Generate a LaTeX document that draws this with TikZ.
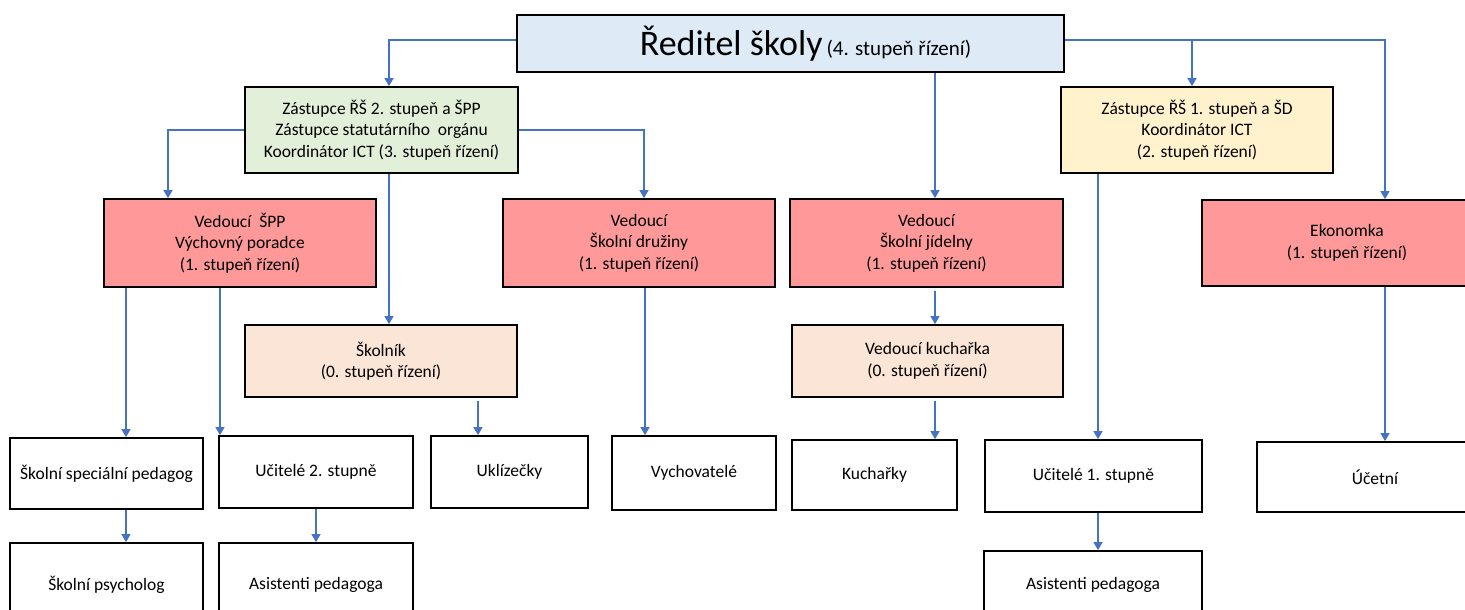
\documentclass[tikz,border=0pt]{standalone}
\usepackage{fontspec}
\setmainfont{Carlito}
\usetikzlibrary{arrows.meta}
\definecolor{linkblue}{HTML}{4472C4}
\definecolor{directorblue}{HTML}{DEEBF7}
\definecolor{deputygreen}{HTML}{E2F0D9}
\definecolor{deputyyellow}{HTML}{FFF2CC}
\definecolor{headred}{HTML}{FF9999}
\definecolor{staffpeach}{HTML}{FBE5D6}
\begin{document}
\begin{tikzpicture}[
    x=1pt, y=-1pt,
    every node/.style={align=center, font=\fontsize{17.5}{21.5}\selectfont},
    box/.style={draw=black, line width=1.8pt, inner sep=0pt},
    director box/.style={box, fill=directorblue},
    deputy2 box/.style={box, fill=deputygreen},
    deputy1 box/.style={box, fill=deputyyellow},
    head box/.style={box, fill=headred},
    staff box/.style={box, fill=staffpeach},
    plain box/.style={box, fill=white},
    link/.style={draw=linkblue, line width=1.3pt, -{Triangle[length=8pt,width=9pt]}},
    ]
\fill[white] (0,0) rectangle (1465,610);
\useasboundingbox (0,0) rectangle (1465,610);
\node[director box, minimum width=547pt, minimum height=57pt] (reditel) at (790.5,43.5) {\hspace*{30pt}{\fontsize{36}{42}\selectfont Ředitel školy} {\fontsize{21}{25}\selectfont (4. stupeň řízení)}};
\node[deputy2 box, minimum width=273pt, minimum height=86pt] (zast2) at (381.5,130) {Zástupce ŘŠ 2. stupeň a ŠPP\\Zástupce statutárního\ \ orgánu\\Koordinátor ICT (3. stupeň řízení)};
\node[deputy1 box, minimum width=272pt, minimum height=86pt] (zast1) at (1197,130) {Zástupce ŘŠ 1. stupeň a ŠD\\Koordinátor ICT\\(2. stupeň řízení)};
\node[head box, minimum width=272pt, minimum height=88pt] (vedspp) at (240,243) {Vedoucí\ \ ŠPP\\Výchovný poradce\\(1. stupeň řízení)};
\node[head box, minimum width=272pt, minimum height=88pt] (druzina) at (639,243) {Vedoucí\\Školní družiny\\(1. stupeň řízení)};
\node[head box, minimum width=273pt, minimum height=88pt] (jidelna) at (926.5,243) {Vedoucí\\Školní jídelny\\(1. stupeň řízení)};
\node[head box, minimum width=290pt, minimum height=86pt] (ekonomka) at (1347,243) {Ekonomka\\(1. stupeň řízení)};
\node[staff box, minimum width=272pt, minimum height=72pt] (skolnik) at (381,361) {Školník\\(0. stupeň řízení)};
\node[staff box, minimum width=271pt, minimum height=72pt] (kucharka) at (927.5,361) {Vedoucí kuchařka\\(0. stupeň řízení)};
\node[plain box, minimum width=193pt, minimum height=71pt] (specped) at (106.5,473.5) {Školní speciální pedagog};
\node[plain box, minimum width=194pt, minimum height=72pt] (ucit2) at (316,472) {Učitelé 2. stupně};
\node[plain box, minimum width=157pt, minimum height=72pt] (uklizecky) at (509.5,472) {Uklízečky};
\node[plain box, minimum width=164pt, minimum height=74pt] (vychovatele) at (694,473) {Vychovatelé};
\node[plain box, minimum width=165pt, minimum height=70pt] (kucharky) at (874.5,475) {Kuchařky};
\node[plain box, minimum width=217pt, minimum height=72pt] (ucit1) at (1093.5,476) {Učitelé 1. stupně};
\node[plain box, minimum width=236pt, minimum height=70pt] (ucetni) at (1375,477) {Účetní};
\node[plain box, minimum width=193pt, minimum height=84pt] (psycholog) at (106.5,585) {Školní psycholog};
\node[plain box, minimum width=194pt, minimum height=84pt] (asist2) at (316,585) {Asistenti pedagoga};
\node[plain box, minimum width=218pt, minimum height=68pt] (asist1) at (1093,585) {Asistenti pedagoga};
\draw[link] ([yshift=3.5pt]reditel.west) -| ([xshift=7.5pt]zast2.north);
\draw[link] ([yshift=3.5pt]reditel.east) -| ([xshift=38pt]ekonomka.north);
\draw[link] ([shift={(-5pt,3.5pt)}]zast1.north |- reditel.east) -- ([xshift=-5pt]zast1.north);
\draw[link] ([xshift=144.5pt]reditel.south) -- ([xshift=8.5pt]jidelna.north);
\draw[link] (zast2.west) -| ([xshift=-72pt]vedspp.north);
\draw[link] (zast2.east) -| ([xshift=5pt]druzina.north);
\draw[link] ([xshift=7.5pt]zast2.south) -- ([xshift=8pt]skolnik.north);
\draw[link] ([xshift=-99pt]zast1.south) -- ([xshift=4.5pt]ucit1.north);
\draw[link] ([xshift=-114pt]vedspp.south) -- ([xshift=19.5pt]specped.north);
\draw[link] ([xshift=-20pt]vedspp.south) -- ([xshift=-96pt]ucit2.north);
\draw[link] ([shift={(97pt,-3pt)}]skolnik.south) -- ([xshift=-31.5pt]uklizecky.north);
\draw[link] ([xshift=6pt]druzina.south) -- ([xshift=-49pt]vychovatele.north);
\draw[link] ([shift={(8.5pt,-3pt)}]jidelna.south) -- ([xshift=7.5pt]kucharka.north);
\draw[link] ([shift={(7.5pt,-3pt)}]kucharka.south) -- ([xshift=60.5pt]kucharky.north);
\draw[link] ([xshift=38pt]ekonomka.south) -- ([xshift=10pt]ucetni.north);
\draw[link] ([xshift=19.5pt]specped.south) -- ([xshift=19.5pt]psycholog.north);
\draw[link] (ucit2.south) -- (asist2.north);
\draw[link] ([xshift=4.5pt]ucit1.south) -- ([xshift=5pt]asist1.north);
\end{tikzpicture}
\end{document}
